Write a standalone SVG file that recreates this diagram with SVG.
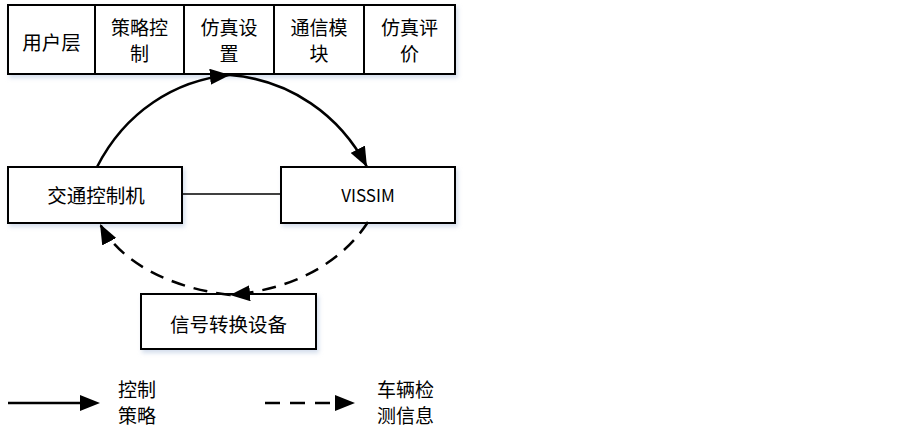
<svg xmlns="http://www.w3.org/2000/svg" width="903" height="427" viewBox="0 0 903 427">
<defs>
<style>
.box{fill:#fff;stroke:#000;stroke-width:2}
.t{font-family:"Microsoft YaHei","Noto Sans CJK SC",sans-serif;font-size:19.5px;fill:#000;text-anchor:middle;dominant-baseline:central}
.t2{font-family:"Microsoft YaHei","Noto Sans CJK SC",sans-serif;font-size:19px;fill:#000;text-anchor:middle;dominant-baseline:central}
.tl{font-family:"Microsoft YaHei","Noto Sans CJK SC",sans-serif;font-size:19px;fill:#000;dominant-baseline:central}
.sol{fill:none;stroke:#000;stroke-width:2.5}
.dash{fill:none;stroke:#000;stroke-width:2.5;stroke-dasharray:14 9}
</style>
<marker id="ah2" viewBox="0 0 20 16" refX="20" refY="8" markerWidth="20" markerHeight="16" orient="auto" markerUnits="userSpaceOnUse">
<path d="M0,0 L20,8 L0,16 z" fill="#000"/>
</marker>
<filter id="sh" x="-10%" y="-10%" width="130%" height="140%">
<feDropShadow dx="2" dy="3" stdDeviation="2" flood-color="#b8c8e0" flood-opacity="0.6"/>
</filter>
</defs>
<rect width="903" height="427" fill="#fff"/>
<g id="toprow" filter="url(#sh)">
<rect class="box" x="8" y="5" width="447" height="69"/>
</g>
<g id="n_user"><rect class="box" x="8" y="5" width="87" height="69"/><text class="t" x="51.5" y="41">用户层</text></g>
<g id="n_strategy"><rect class="box" x="95" y="5" width="89" height="69"/><text class="t2" x="139.5" y="26">策略控</text><text class="t2" x="139.5" y="52">制</text></g>
<g id="n_simset"><rect class="box" x="184" y="5" width="90" height="69"/><text class="t2" x="229" y="26">仿真设</text><text class="t2" x="229" y="52">置</text></g>
<g id="n_comm"><rect class="box" x="274" y="5" width="90" height="69"/><text class="t2" x="319" y="26">通信模</text><text class="t2" x="319" y="52">块</text></g>
<g id="n_eval"><rect class="box" x="364" y="5" width="91" height="69"/><text class="t2" x="409.5" y="26">仿真评</text><text class="t2" x="409.5" y="52">价</text></g>
<g id="n_ctrl"><rect class="box" x="8" y="167" width="174" height="56" filter="url(#sh)"/><text class="t" x="96" y="194">交通控制机</text></g>
<g id="n_vissim"><rect class="box" x="281" y="167" width="174" height="56" filter="url(#sh)"/><text class="t" x="368" y="194" style="font-size:17px">VISSIM</text></g>
<g id="n_signal"><rect class="box" x="141" y="294" width="175" height="55" filter="url(#sh)"/><text class="t" x="228.5" y="323">信号转换设备</text></g>
<g id="connectors">
<line x1="182" y1="194" x2="281" y2="194" stroke="#000" stroke-width="1.5"/>
<path class="sol" d="M97,167 C125,112 175,80 230,75" marker-end="url(#ah2)"/>
<path class="sol" d="M230,75 C290,80 340,115 367,167" marker-end="url(#ah2)"/>
<path class="dash" d="M368,222 C340,265 290,290 230,295" marker-end="url(#ah2)"/>
<path class="dash" d="M230,295 C170,288 120,262 100,224" marker-end="url(#ah2)"/>
</g>
<g id="legend">
<line x1="8" y1="403" x2="82" y2="403" stroke="#000" stroke-width="2.5"/>
<path d="M80,395 L100,403 L80,411 z" fill="#000"/>
<text class="tl" x="118" y="388">控制</text>
<text class="tl" x="118" y="414">策略</text>
<line x1="265" y1="403" x2="338" y2="403" stroke="#000" stroke-width="2.5" stroke-dasharray="15 10"/>
<path d="M335,395 L355,403 L335,411 z" fill="#000"/>
<text class="tl" x="377" y="388">车辆检</text>
<text class="tl" x="377" y="414">测信息</text>
</g>
</svg>
